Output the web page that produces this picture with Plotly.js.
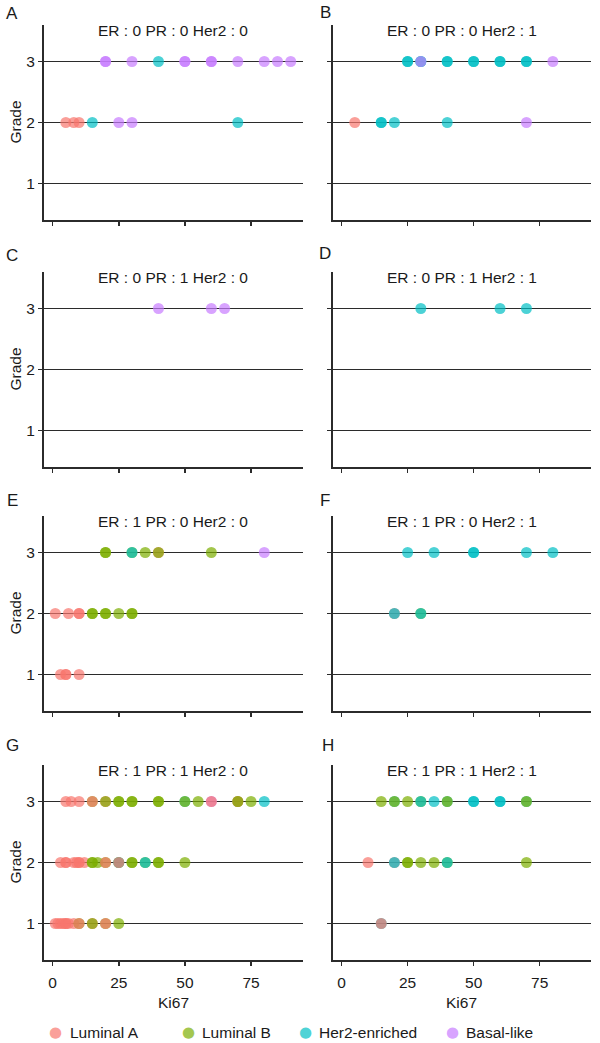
<!DOCTYPE html>
<html><head><meta charset="utf-8">
<script src="https://cdn.plot.ly/plotly-3.0.1.min.js"></script>
<style>html,body{margin:0;padding:0;background:#fff}</style>
</head><body><div id="chart" style="width:600px;height:1043px"></div>
<script>
// Subtypes
const subtypeNames = ['Luminal A', 'Luminal B', 'Her2-enriched', 'Basal-like'];
const subtypeCodes = ['LA', 'LB', 'H2', 'BL'];
const subtypeColors = ['#F8766D', '#7CAE00', '#00BFC4', '#C77CFF'];

const panelLetters = ['A', 'B', 'C', 'D', 'E', 'F', 'G', 'H'];
const panelTitles = ['ER : 0 PR : 0 Her2 : 0', 'ER : 0 PR : 0 Her2 : 1',
  'ER : 0 PR : 1 Her2 : 0', 'ER : 0 PR : 1 Her2 : 1',
  'ER : 1 PR : 0 Her2 : 0', 'ER : 1 PR : 0 Her2 : 1',
  'ER : 1 PR : 1 Her2 : 0', 'ER : 1 PR : 1 Her2 : 1'];
const xTickVals = [0, 25, 50, 75];
const yTickVals = [1, 2, 3];

// Panel A
const kiA = [5, 8, 10, 15, 25, 30, 70, 20, 20, 30, 40, 50, 50, 60, 60, 70, 80, 85, 90];
const gradeA = [2, 2, 2, 2, 2, 2, 2, 3, 3, 3, 3, 3, 3, 3, 3, 3, 3, 3, 3];
const typeA = ['LA', 'LA', 'LA', 'H2', 'BL', 'BL', 'H2', 'BL', 'BL', 'BL', 'H2', 'BL', 'BL', 'BL', 'BL', 'BL', 'BL', 'BL', 'BL'];
// Panel B
const kiB = [5, 15, 15, 20, 40, 70, 25, 25, 30, 30, 30, 40, 40, 50, 50, 60, 60, 70, 70, 80];
const gradeB = [2, 2, 2, 2, 2, 2, 3, 3, 3, 3, 3, 3, 3, 3, 3, 3, 3, 3, 3, 3];
const typeB = ['LA', 'H2', 'H2', 'H2', 'H2', 'BL', 'H2', 'H2', 'H2', 'H2', 'BL', 'H2', 'H2', 'H2', 'H2', 'H2', 'H2', 'H2', 'H2', 'BL'];
// Panel C
const kiC = [40, 60, 65];
const gradeC = [3, 3, 3];
const typeC = ['BL', 'BL', 'BL'];
// Panel D
const kiD = [30, 60, 70];
const gradeD = [3, 3, 3];
const typeD = ['H2', 'H2', 'H2'];
// Panel E
const kiE = [3, 5, 5, 10, 1, 6, 10, 10, 15, 15, 20, 20, 25, 30, 30, 20, 20, 30, 30, 35, 40, 40, 60, 80];
const gradeE = [1, 1, 1, 1, 2, 2, 2, 2, 2, 2, 2, 2, 2, 2, 2, 3, 3, 3, 3, 3, 3, 3, 3, 3];
const typeE = ['LA', 'LA', 'LA', 'LA', 'LA', 'LA', 'LA', 'LA', 'LB', 'LB', 'LB', 'LB', 'LB', 'LB', 'LB', 'LB', 'LB', 'LB', 'H2', 'LB', 'LA', 'LB', 'LB', 'BL'];
// Panel F
const kiF = [20, 20, 30, 30, 25, 35, 50, 50, 70, 80];
const gradeF = [2, 2, 2, 2, 3, 3, 3, 3, 3, 3];
const typeF = ['LA', 'H2', 'LB', 'H2', 'H2', 'H2', 'H2', 'H2', 'H2', 'H2'];
// Panel G
const kiG = [1, 2, 3, 4, 5, 5, 6, 8, 10, 10, 15, 15, 20, 20, 25,
  3, 5, 5, 8, 9, 10, 10, 12, 15, 15, 17, 20, 20, 25, 25, 25, 30, 30, 35, 35, 40, 40, 50,
  5, 7, 10, 15, 15, 20, 20, 25, 25, 30, 30, 40, 40, 50, 50, 55, 60, 60, 70, 70, 70, 75, 80];
const gradeG = [1, 1, 1, 1, 1, 1, 1, 1, 1, 1, 1, 1, 1, 1, 1,
  2, 2, 2, 2, 2, 2, 2, 2, 2, 2, 2, 2, 2, 2, 2, 2, 2, 2, 2, 2, 2, 2, 2,
  3, 3, 3, 3, 3, 3, 3, 3, 3, 3, 3, 3, 3, 3, 3, 3, 3, 3, 3, 3, 3, 3, 3];
const typeG = ['LA', 'LA', 'LA', 'LA', 'LA', 'LA', 'LA', 'LA', 'LB', 'LA', 'LA', 'LB', 'LB', 'LA', 'LB',
  'LA', 'LA', 'LA', 'LA', 'LA', 'LA', 'LA', 'LA', 'LB', 'LB', 'LB', 'LB', 'LA', 'LB', 'H2', 'LA', 'LB', 'LB', 'LB', 'H2', 'LB', 'LB', 'LB',
  'LA', 'LA', 'LA', 'LB', 'LA', 'LA', 'LB', 'LB', 'LB', 'LB', 'LB', 'LB', 'LB', 'H2', 'LB', 'LB', 'BL', 'LA', 'LB', 'LA', 'LB', 'LB', 'H2'];
// Panel H
const kiH = [15, 15, 10, 20, 20, 25, 25, 30, 35, 40, 40, 70, 15, 20, 20, 25, 30, 30, 35, 40, 40, 50, 50, 60, 60, 70, 70];
const gradeH = [1, 1, 2, 2, 2, 2, 2, 2, 2, 2, 2, 2, 3, 3, 3, 3, 3, 3, 3, 3, 3, 3, 3, 3, 3, 3, 3];
const typeH = ['H2', 'LA', 'LA', 'LA', 'H2', 'LB', 'LB', 'LB', 'LB', 'LB', 'H2', 'LB', 'LB', 'H2', 'LB', 'LB', 'LB', 'H2', 'H2', 'H2', 'LB', 'H2', 'H2', 'H2', 'H2', 'H2', 'LB'];

const panelKi = [kiA, kiB, kiC, kiD, kiE, kiF, kiG, kiH];
const panelGrade = [gradeA, gradeB, gradeC, gradeD, gradeE, gradeF, gradeG, gradeH];
const panelType = [typeA, typeB, typeC, typeD, typeE, typeF, typeG, typeH];

// ---- layout geometry (pixels) ----
const W = 600, H = 1043;
const colX = [[43.5, 302.5], [332.5, 591]];
const PH = 195.2;                       // panel height in px
const rowTop = [24.9, 271.9, 515.9, 764.9];
const letterPos = [[12, 14], [325, 13], [12, 255], [325, 253], [12, 500], [325, 500], [12, 745], [328, 745]];
const FONT = 'Liberation Sans, Arial, sans-serif';
const TXT = '#1a1a1a';
const LINE = '#2b2b2b';
const LW = 1.5;
const px = v => v / W;
const py = v => 1 - v / H;

const colorOf = c => subtypeColors[subtypeCodes.indexOf(c)];
const hexToRgba = (h, a) => 'rgba(' + parseInt(h.slice(1, 3), 16) + ',' + parseInt(h.slice(3, 5), 16) + ',' + parseInt(h.slice(5, 7), 16) + ',' + a + ')';

const traces = [];
const layout = {
  width: W, height: H, margin: {l: 0, r: 0, t: 0, b: 0},
  paper_bgcolor: '#fff', plot_bgcolor: '#fff',
  font: {family: FONT, size: 15.5, color: TXT},
  showlegend: false, annotations: []
};

for (let i = 0; i < 8; i++) {
  const row = Math.floor(i / 2), col = i % 2;
  const n = i + 1;
  const xa = 'xaxis' + (n === 1 ? '' : n), ya = 'yaxis' + (n === 1 ? '' : n);
  const xr = 'x' + (n === 1 ? '' : n), yr = 'y' + (n === 1 ? '' : n);
  const top = rowTop[row], bot = rowTop[row] + PH;
  traces.push({
    type: 'scatter', mode: 'markers', xaxis: xr, yaxis: yr,
    x: panelKi[i], y: panelGrade[i],
    marker: {size: 11, color: panelType[i].map(colorOf), opacity: 0.7, line: {width: 0}},
    showlegend: false, hoverinfo: 'skip', cliponaxis: false
  });
  layout[xa] = {
    domain: [px(colX[col][0]), px(colX[col][1])], anchor: yr,
    range: [-3.45, 94.45], tickvals: xTickVals, ticktext: xTickVals.map(String),
    showticklabels: row === 3, ticks: 'outside', ticklen: 4, tickwidth: LW, tickcolor: LINE,
    ticklabelstandoff: 4,
    showline: true, linecolor: LINE, linewidth: LW, showgrid: false, zeroline: false,
    tickfont: {size: 15.5, color: TXT}, fixedrange: true
  };
  layout[ya] = {
    domain: [py(bot), py(top)], anchor: xr,
    range: [0.4, 3.6], tickvals: yTickVals, ticktext: yTickVals.map(String),
    showticklabels: col === 0, ticks: 'outside', ticklen: 4, tickwidth: LW, tickcolor: LINE,
    showline: true, linecolor: LINE, linewidth: LW,
    showgrid: true, gridcolor: LINE, gridwidth: LW, zeroline: false,
    tickfont: {size: 15.5, color: TXT}, fixedrange: true
  };
  const cx = (colX[col][0] + colX[col][1]) / 2;
  layout.annotations.push({
    text: panelTitles[i], xref: 'paper', yref: 'paper', x: px(cx), y: py(top + 6),
    xanchor: 'center', yanchor: 'middle', showarrow: false, font: {size: 15.5, color: TXT}
  });
  layout.annotations.push({
    text: panelLetters[i], xref: 'paper', yref: 'paper', x: px(letterPos[i][0]), y: py(letterPos[i][1]),
    xanchor: 'center', yanchor: 'middle', showarrow: false, font: {size: 17, color: TXT}
  });
  if (col === 0) {
    layout.annotations.push({
      text: 'Grade', xref: 'paper', yref: 'paper', x: px(15), y: py(top + PH / 2),
      xanchor: 'center', yanchor: 'middle', textangle: -90, showarrow: false, font: {size: 15.5, color: TXT}
    });
  }
  if (row === 3) {
    layout.annotations.push({
      text: 'Ki67', xref: 'paper', yref: 'paper', x: px(cx), y: py(1002),
      xanchor: 'center', yanchor: 'middle', showarrow: false, borderpad: 0,
      font: {size: 15.5, color: TXT}
    });
  }
}

// Legend along the bottom (key glyph + label for each subtype)
const legendDotX = [55.5, 188, 305, 452];
const legendY = 1032;
subtypeNames.forEach((name, k) => {
  layout.annotations.push({
    text: '\u25CF', xref: 'paper', yref: 'paper', x: px(legendDotX[k]), y: py(legendY),
    xanchor: 'center', yanchor: 'middle', showarrow: false, borderpad: 0,
    font: {family: 'DejaVu Sans', size: 15, color: hexToRgba(subtypeColors[k], 0.7)}
  });
  layout.annotations.push({
    text: name, xref: 'paper', yref: 'paper', x: px(legendDotX[k] + 13), y: py(legendY),
    xanchor: 'left', yanchor: 'middle', showarrow: false, borderpad: 0,
    font: {size: 15.5, color: TXT}
  });
});

Plotly.newPlot('chart', traces, layout, {displayModeBar: false, staticPlot: true});
</script>
</body></html>
